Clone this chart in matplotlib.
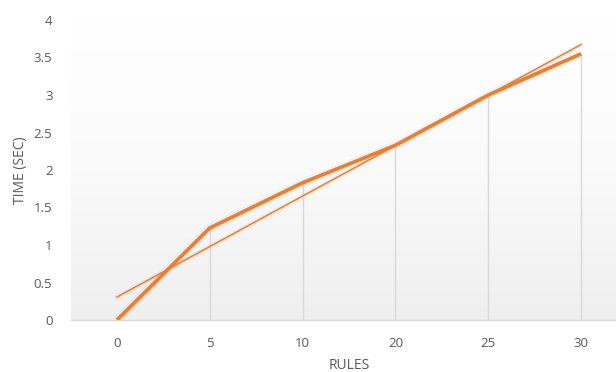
import numpy as np
import matplotlib
matplotlib.use("Agg")
import matplotlib.pyplot as plt
from matplotlib.colors import LinearSegmentedColormap

categories = ["0", "5", "10", "20", "25", "30"]
times = [0.0, 1.227, 1.83, 2.33, 3.0, 3.55]
y_ticks = [0, 0.5, 1, 1.5, 2, 2.5, 3, 3.5, 4]
y_tick_labels = ["0", "0.5", "1", "1.5", "2", "2.5", "3", "3.5", "4"]

plt.rcParams['font.family'] = ['Open Sans', 'DejaVu Sans']
text_color = "#595959"
orange = "#ED7D31"

fig = plt.figure(figsize=(6.16, 3.72), dpi=100)
ax = fig.add_axes([70.5 / 616, 52 / 372, 557 / 616, 300 / 372])

x = np.arange(len(categories))
ax.set_xlim(-0.5, len(categories) - 0.5)
ax.set_ylim(0, 4)

# gradient background
cmap = LinearSegmentedColormap.from_list("bg", ["#efefef", "#fafafa", "#ffffff"])
grad = np.linspace(0, 1, 256).reshape(-1, 1)
ax.imshow(grad, extent=[-0.5, len(categories) - 0.5, 0, 4], origin="lower",
          aspect="auto", cmap=cmap, zorder=0)

# drop lines
ax.vlines(x, 0, times, color="#d9d9d9", linewidth=1.0, zorder=1)

# glow
ax.plot(x, times, color=orange, alpha=0.08, linewidth=6, solid_capstyle="butt", zorder=2)
ax.plot(x, times, color=orange, linewidth=2.6, solid_capstyle="butt", zorder=3)

# linear trendline
coef = np.polyfit(x, times, 1)
trend = np.polyval(coef, x)
ax.plot(x, trend, color=orange, alpha=0.08, linewidth=3.5, zorder=2)
ax.plot(x, trend, color=orange, linewidth=1.1, zorder=4)

ax.set_xticks(x)
ax.set_xticklabels(categories)
ax.set_yticks(y_ticks)
ax.set_yticklabels(y_tick_labels)
ax.tick_params(axis="both", length=0, labelsize=9.5, colors=text_color)
ax.tick_params(axis="x", pad=12)
ax.tick_params(axis="y", pad=13)

for s in ["top", "right", "left"]:
    ax.spines[s].set_visible(False)
ax.spines["bottom"].set_color("#d9d9d9")
ax.spines["bottom"].set_linewidth(1.0)
ax.spines["bottom"].set_zorder(5)

ax.set_xlabel("RULES", fontsize=10, color=text_color, labelpad=6)
ax.set_ylabel("TIME (SEC)", fontsize=10, color=text_color, labelpad=4)

fig.savefig("out.png", dpi=100)
